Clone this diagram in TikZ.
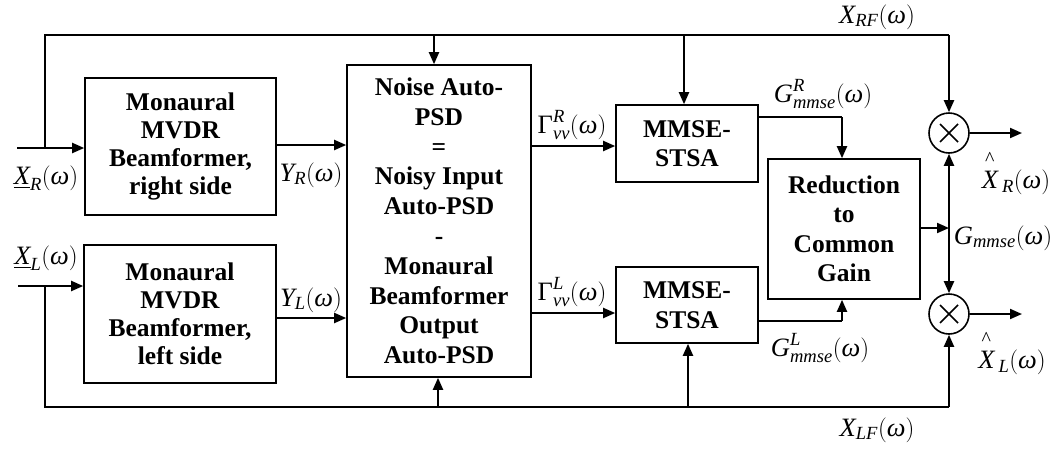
\documentclass[tikz,border=0pt]{standalone}
\usepackage{amsmath}
\usepackage{fontspec}
\setmainfont{Liberation Serif}
\usetikzlibrary{arrows.meta}
\newcommand{\ti}[1]{\text{\itshape #1}}
\newcommand{\hatX}{\overset{\raisebox{1pt}{\fontsize{20}{20}\selectfont\^{}}}{\ti{X}}}
\begin{document}
\begin{tikzpicture}[x=1pt,y=-1pt,
  blk/.style={draw,line width=1.6pt,inner sep=0pt,align=center,font=\fontsize{25.5}{29.5}\selectfont\bfseries},
  mul/.style={draw,circle,line width=1.6pt,minimum size=40pt,inner sep=0pt},
  wire/.style={line width=2pt},
  arr/.style={wire,-{Triangle[length=12pt,width=10pt]}},
  darr/.style={wire,{Triangle[length=12pt,width=10pt]}-{Triangle[length=12pt,width=10pt]}},
  lbl/.style={inner sep=0pt,font=\fontsize{26.5}{30}\selectfont}]
\useasboundingbox (0,0) rectangle (1058,448);
% blocks
\node[blk,minimum width=191pt,minimum height=137pt,font=\fontsize{25.5}{28}\selectfont\bfseries] (bfR) at (180.5,146.5) {Monaural\\MVDR\\Beamformer,\\right side};
\node[blk,minimum width=192pt,minimum height=138pt,font=\fontsize{25.5}{28}\selectfont\bfseries] (bfL) at (180,314) {Monaural\\MVDR\\Beamformer,\\left side};
\node[blk,minimum width=184pt,minimum height=312pt,font=\fontsize{25.5}{29.8}\selectfont\bfseries] (noise) at (439,221) {Noise Auto-\\PSD\\=\\Noisy Input\\Auto-PSD\\-\\Monaural\\Beamformer\\Output\\Auto-PSD};
\node[blk,minimum width=142pt,minimum height=77pt] (mmR) at (687,143.5) {MMSE-\\STSA};
\node[blk,minimum width=142pt,minimum height=76pt] (mmL) at (687,305) {MMSE-\\STSA};
\node[blk,minimum width=152pt,minimum height=140pt] (red) at (844,229) {Reduction\\to\\Common\\Gain};
\node[mul] (mulR) at (949,133) {};
\node[mul] (mulL) at (949,314) {};
\foreach \m in {mulR,mulL}{
  \draw[line width=1.5pt] ([shift={(-9,-9)}]\m.center) -- ([shift={(9,9)}]\m.center);
  \draw[line width=1.5pt] ([shift={(-9,9)}]\m.center) -- ([shift={(9,-9)}]\m.center);
}
% coordinates
\coordinate (inR) at (17,148);
\coordinate (inL) at (18,286);
\coordinate (jR) at (45,148);
\coordinate (jL) at (45,286);
\coordinate (tl) at (45,35);
\coordinate (tr) at (949,35);
\coordinate (bl) at (45,407);
\coordinate (br) at (949,407);
\coordinate (tN) at (434,35);
\coordinate (tM) at (684,35);
\coordinate (bN) at (438,407);
\coordinate (bM) at (688,407);
\coordinate (gR) at (842,117);
\coordinate (gL) at (842,321);
\coordinate (outR) at (1022,133);
\coordinate (outL) at (1022,314);
% inputs and feed-forward lines
\draw[arr] (inR) -- (bfR.west|-inR);
\draw[arr] (inL) -- (bfL.west|-inL);
\draw[wire] (jR) -- (tl) -- (tr);
\draw[arr] (tr) -- (mulR.north);
\draw[wire] (jL) -- (bl) -- (br);
\draw[arr] (br) -- (mulL.south);
\draw[arr] (tN) -- (tN|-noise.north);
\draw[arr] (tM) -- (tM|-mmR.north);
\draw[arr] (bN) -- (bN|-noise.south);
\draw[arr] (bM) -- (bM|-mmL.south);
% beamformer outputs
\draw[arr] (bfR.east|-0,145) -- (noise.west|-0,145);
\draw[arr] (bfL.east|-0,318) -- (noise.west|-0,318);
% noise PSD outputs
\draw[arr] (noise.east|-0,146) -- (mmR.west|-0,146);
\draw[arr] (noise.east|-0,313) -- (mmL.west|-0,313);
% gains
\draw[wire] (mmR.east|-gR) -- (gR);
\draw[arr] (gR) -- (gR|-red.north);
\draw[wire] (mmL.east|-gL) -- (gL);
\draw[arr] (gL) -- (gL|-red.south);
\draw[arr] (red.east|-0,228) -- (mulR.south|-0,228);
\draw[darr] (mulR.south) -- (mulL.north);
\draw[arr] (mulR.east) -- (outR);
\draw[arr] (mulL.east) -- (outL);
% labels
\node[lbl] (lxr) at (46,178) {$\underline{\ti{X}}_{\ti{R}}(\ti{ω})$};
\node[lbl] (lxl) at (46,258) {$\underline{\ti{X}}_{\ti{L}}(\ti{ω})$};
\node[lbl] (lyr) at (311,175) {$\ti{Y}_{\ti{R}}(\ti{ω})$};
\node[lbl] (lyl) at (311,300) {$\ti{Y}_{\ti{L}}(\ti{ω})$};
\node[lbl] (lgr) at (572,125) {$\text{Γ}^{\ti{R}}_{\ti{vv}}(\ti{ω})$};
\node[lbl] (lgl) at (572,292) {$\text{Γ}^{\ti{L}}_{\ti{vv}}(\ti{ω})$};
\node[lbl] (lxrf) at (877,17) {$\ti{X}_{\ti{RF}}(\ti{ω})$};
\node[lbl] (lxlf) at (877,430) {$\ti{X}_{\ti{LF}}(\ti{ω})$};
\node[lbl] (lgmr) at (823,94) {$\ti{G}^{\ti{R}}_{\ti{mmse}}(\ti{ω})$};
\node[lbl] (lgml) at (820,348) {$\ti{G}^{\ti{L}}_{\ti{mmse}}(\ti{ω})$};
\node[lbl] (lgm) at (1003,238) {$\ti{G}_{\ti{mmse}}(\ti{ω})$};
\node[lbl] (lxhr) at (1016,172) {$\hatX\,{}_{\ti{R}}(\ti{ω})$};
\node[lbl] (lxhl) at (1012,352) {$\hatX\,{}_{\ti{L}}(\ti{ω})$};
\end{tikzpicture}
\end{document}
